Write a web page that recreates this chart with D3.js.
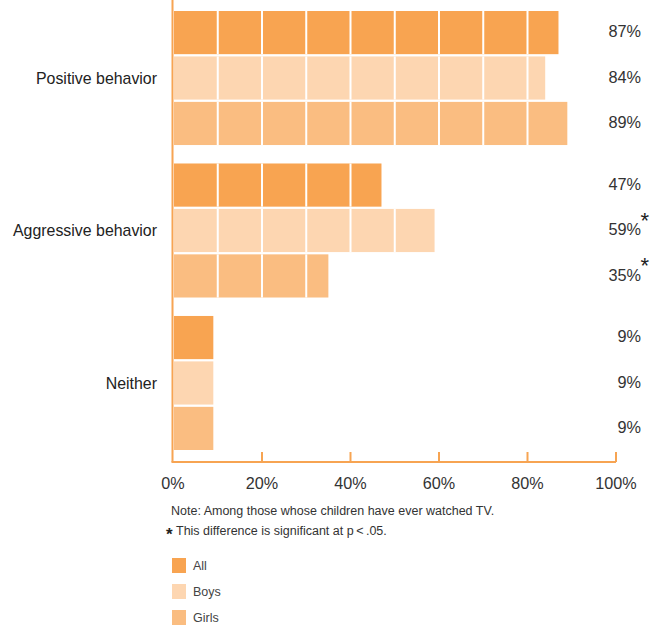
<!DOCTYPE html>
<html><head><meta charset="utf-8">
<script src="https://cdn.jsdelivr.net/npm/d3@7"></script>
<style>body{margin:0;background:#fff}svg{display:block}text{font-family:"Liberation Sans",Arial,sans-serif}</style>
</head><body><svg id="c" width="660" height="627"></svg>
<script>
const categories = ["Positive behavior","Aggressive behavior","Neither"];
const seriesNames = ["All","Boys","Girls"];
const allValues = [87,47,9];
const boysValues = [84,59,9];
const girlsValues = [89,35,9];
const boysSignificant = [false,true,false];
const girlsSignificant = [false,true,false];
const tickValues = [0,20,40,60,80,100];
const tickLabels = ["0%","20%","40%","60%","80%","100%"];
const colors = {All:"#f8a451",Boys:"#fdd6b1",Girls:"#fabd81"};
const axisColor = "#f7a452";
const noteText = "Note: Among those whose children have ever watched TV.";
const sigText = "This difference is significant at p\u2009<\u2009.05.";

const values = {All:allValues,Boys:boysValues,Girls:girlsValues};
const sig = {All:[false,false,false],Boys:boysSignificant,Girls:girlsSignificant};

const svg = d3.select("#c");
const x = d3.scaleLinear().domain([0,100]).range([173.5,616]);
const y0 = d3.scaleBand().domain(categories).range([11,450]).paddingInner(0.121);
const y1 = d3.scaleBand().domain(seriesNames).range([0,y0.bandwidth()]).paddingInner(0.05);

const rows = [];
categories.forEach((c,ci)=>seriesNames.forEach(s=>rows.push({c,s,v:values[s][ci],sig:sig[s][ci]})));

const g = svg.append("g");
rows.forEach(r=>{
  const yy = y0(r.c)+y1(r.s);
  const h = y1.bandwidth();
  g.append("rect").attr("x",x(0)+0.5).attr("y",yy).attr("width",x(r.v)-x(0)-0.5).attr("height",h).attr("fill",colors[r.s]);
  for(let t=10;t<r.v;t+=10){
    g.append("rect").attr("x",x(t)-1).attr("y",yy).attr("width",2).attr("height",h).attr("fill","#fff");
  }
  g.append("text").attr("x",641).attr("y",yy+h/2-1).attr("dy","0.35em").attr("text-anchor","end")
    .attr("font-size",16.3).attr("fill","#333").text(r.v+"%");
  if(r.sig){
    g.append("text").attr("x",640.5).attr("y",yy+h/2-3).attr("font-size",22).attr("fill","#222").text("*");
  }
});

categories.forEach(c=>{
  svg.append("text").attr("x",157).attr("y",y0(c)+y0.bandwidth()/2).attr("dy","0.35em")
    .attr("text-anchor","end").attr("font-size",15.9).attr("fill","#222").text(c);
});

// axes
const baseY = 462;
svg.append("line").attr("x1",x(0)-1).attr("x2",x(0)-1).attr("y1",0).attr("y2",baseY).attr("stroke",axisColor).attr("stroke-width",2);
svg.append("line").attr("x1",x(0)-2).attr("x2",x(100)).attr("y1",baseY).attr("y2",baseY).attr("stroke",axisColor).attr("stroke-width",2);
tickValues.slice(1).forEach(t=>{
  svg.append("line").attr("x1",x(t)).attr("x2",x(t)).attr("y1",baseY).attr("y2",baseY-10).attr("stroke",axisColor).attr("stroke-width",2);
});
tickValues.forEach((t,i)=>{
  svg.append("text").attr("x",t===0?x(t)-0.5:x(t)).attr("y",483).attr("dy","0.35em").attr("text-anchor","middle")
    .attr("font-size",16.2).attr("fill","#333").text(tickLabels[i]);
});

svg.append("text").attr("x",171).attr("y",515).attr("font-size",12.5).attr("fill","#333").text(noteText);
svg.append("text").attr("x",166).attr("y",540).attr("font-size",17).attr("font-weight","bold").attr("fill","#222").text("*");
svg.append("text").attr("x",176).attr("y",535).attr("font-size",12.5).attr("fill","#333").text(sigText);

seriesNames.forEach((s,i)=>{
  const ly = 558 + i*26;
  svg.append("rect").attr("x",172).attr("y",ly).attr("width",14).attr("height",15).attr("fill",colors[s]);
  svg.append("text").attr("x",193).attr("y",ly+7.5).attr("dy","0.35em").attr("font-size",12.5).attr("fill","#444").text(s);
});
</script></body></html>
